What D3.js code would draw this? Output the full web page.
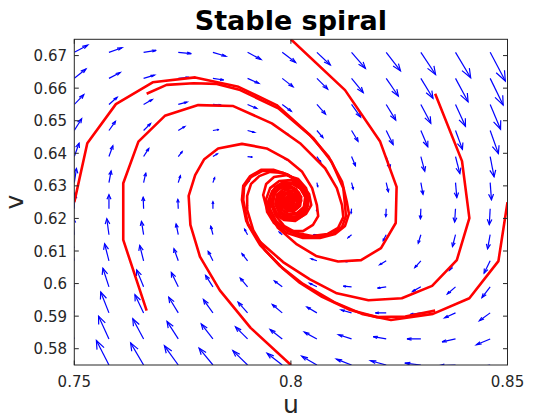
<!DOCTYPE html>
<html>
<head>
<meta charset="utf-8">
<script src="https://cdn.jsdelivr.net/npm/d3@7"></script>
<style>
  body { margin: 0; background: #fff; }
  text { font-family: "DejaVu Sans", sans-serif; }
</style>
</head>
<body>
<div id="chart"></div>
<script>
// tick labels
var uTicks = [0.75, 0.8, 0.85];
var uTickLabels = ["0.75", "0.8", "0.85"];
var vTicks = [0.58, 0.59, 0.6, 0.61, 0.62, 0.63, 0.64, 0.65, 0.66, 0.67];
var vTickLabels = ["0.58", "0.59", "0.6", "0.61", "0.62", "0.63", "0.64", "0.65", "0.66", "0.67"];

// quiver grid
var uGrid = [0.75, 0.758, 0.766, 0.774, 0.782, 0.79, 0.798, 0.806, 0.814, 0.822, 0.83, 0.838, 0.846];
var vGrid = [0.575, 0.583, 0.591, 0.599, 0.607, 0.615, 0.623, 0.631, 0.639, 0.647, 0.655, 0.663, 0.671];

// arrow components (x 1e-4), one row per vGrid value, bottom row first
var U = [
  [-28, -29, -30, -32, -32, -34, -35, -35, -35, -36, -37, -38, -39],
  [-23, -24, -25, -26, -27, -28, -28, -29, -30, -30, -32, -31, -32],
  [-19, -19, -20, -22, -22, -22, -23, -23, -24, -25, -25, -25, -25],
  [-13, -14, -16, -16, -17, -17, -18, -17, -19, -20, -19, -19, -19],
  [-9, -10, -9, -10, -11, -13, -12, -13, -14, -15, -14, -14, -14],
  [-4, -5, -5, -5, -5, -7, -7, -8, -8, -7, -6, -7, -6],
  [1, 0, -1, -1, 0, -1, -1, -1, -1, -1, -1, -2, -2],
  [5, 5, 5, 5, 4, 4, 3, 2, 4, 5, 5, 3, 3],
  [11, 9, 12, 9, 10, 11, 10, 9, 9, 9, 9, 10, 9],
  [17, 15, 16, 15, 14, 16, 15, 14, 15, 16, 16, 16, 19],
  [22, 19, 20, 20, 19, 21, 21, 20, 21, 22, 23, 23, 24],
  [27, 26, 25, 25, 25, 26, 25, 25, 27, 28, 28, 29, 30],
  [31, 30, 29, 30, 30, 31, 31, 31, 32, 33, 34, 35, 35]
];
var V = [
  [81, 75, 68, 59, 52, 44, 36, 27, 18, 13, 6, -2, -10],
  [76, 70, 62, 54, 46, 37, 29, 21, 13, 7, 0, -9, -18],
  [69, 64, 56, 48, 41, 33, 26, 18, 9, 0, -5, -15, -24],
  [62, 57, 52, 44, 35, 27, 18, 11, 2, -4, -14, -22, -33],
  [58, 52, 47, 37, 29, 22, 11, 6, -3, -12, -21, -29, -38],
  [55, 49, 41, 33, 26, 17, 8, 0, -9, -18, -26, -36, -43],
  [48, 43, 35, 28, 21, 12, 3, -6, -14, -24, -31, -41, -49],
  [43, 36, 29, 21, 15, 6, -3, -12, -20, -28, -36, -46, -53],
  [41, 33, 25, 15, 8, -2, -10, -18, -28, -37, -45, -52, -62],
  [36, 28, 21, 12, 3, -6, -14, -22, -33, -43, -50, -58, -71],
  [30, 22, 15, 7, -2, -12, -21, -30, -39, -48, -58, -67, -76],
  [29, 18, 10, 3, -5, -15, -26, -33, -44, -54, -61, -72, -82],
  [22, 14, 6, -4, -12, -22, -31, -39, -49, -57, -68, -78, -88]
];

// trajectories [u, v]
var trajA = [[0.8,0.675],[0.8125,0.6594],[0.8206,0.6436],[0.8244,0.6297],[0.8242,0.6186],[0.8208,0.6109],[0.8162,0.6072],[0.8109,0.6068],[0.8058,0.6085],[0.8012,0.6122],[0.7970,0.6171],[0.7945,0.6226],[0.7936,0.6272],[0.7943,0.6306],[0.7961,0.6327],[0.7989,0.6333],[0.8017,0.6321],[0.8035,0.6293],[0.8042,0.6260],[0.8035,0.6226],[0.8017,0.6204],[0.7994,0.6201],[0.7973,0.6217],[0.7964,0.6244],[0.7968,0.6272],[0.7982,0.6290],[0.8003,0.6293],[0.8019,0.6278],[0.8024,0.6254],[0.8014,0.6232],[0.7998,0.6226],[0.7984,0.6238],[0.7984,0.6260],[0.7994,0.6269],[0.8005,0.6263],[0.8007,0.6247],[0.7998,0.6241],[0.7991,0.6250],[0.7996,0.6257]];
var trajB = [[0.8333,0.6583],[0.8395,0.6376],[0.8412,0.6201],[0.8383,0.6072],[0.8326,0.5993],[0.8256,0.5955],[0.8179,0.5949],[0.8106,0.5970],[0.8044,0.6013],[0.7982,0.6066],[0.7924,0.6134],[0.7897,0.6192],[0.7887,0.6257],[0.7890,0.6300],[0.7906,0.6330],[0.7931,0.6349],[0.7961,0.6349],[0.7991,0.6336],[0.8019,0.6312],[0.8035,0.6278],[0.8040,0.6241],[0.8030,0.6211],[0.8010,0.6192],[0.7984,0.6195],[0.7964,0.6214],[0.7954,0.6244],[0.7959,0.6275],[0.7973,0.6297],[0.7994,0.6303],[0.8012,0.6290],[0.8024,0.6266],[0.8021,0.6238],[0.8007,0.6223],[0.7991,0.6223],[0.7980,0.6238],[0.7980,0.6260],[0.7989,0.6275],[0.8003,0.6272],[0.8010,0.6257],[0.8005,0.6241],[0.7994,0.6241],[0.7991,0.6254],[0.7998,0.6257]];
var trajC = [[0.8,0.575],[0.7907,0.5864],[0.7836,0.5979],[0.7790,0.6083],[0.7768,0.6180],[0.7764,0.6269],[0.7779,0.6333],[0.7800,0.6382],[0.7832,0.6415],[0.7887,0.6429],[0.7944,0.6415],[0.7994,0.6379],[0.8026,0.6343],[0.8049,0.6293],[0.8060,0.6241],[0.8063,0.6207],[0.8051,0.6180],[0.8028,0.6161],[0.7998,0.6161],[0.7970,0.6180],[0.7952,0.6214],[0.7947,0.6250],[0.7957,0.6284],[0.7975,0.6306],[0.8000,0.6309],[0.8021,0.6293],[0.8033,0.6266],[0.8030,0.6235],[0.8014,0.6217],[0.7994,0.6214],[0.7977,0.6229],[0.7973,0.6254],[0.7982,0.6275],[0.7998,0.6281],[0.8012,0.6269],[0.8014,0.6247],[0.8005,0.6232],[0.7991,0.6235],[0.7987,0.6250],[0.7994,0.6263],[0.8000,0.6254]];
var trajD = [[0.7667,0.5917],[0.7613,0.6134],[0.7613,0.6308],[0.7648,0.6436],[0.7709,0.6515],[0.7786,0.6548],[0.7867,0.6545],[0.7956,0.6492],[0.8021,0.6431],[0.8079,0.6354],[0.8106,0.6293],[0.8118,0.6241],[0.8121,0.6204],[0.8109,0.6171],[0.8084,0.6152],[0.8049,0.6146],[0.8014,0.6155],[0.7984,0.6177],[0.7964,0.6211],[0.7957,0.6247],[0.7964,0.6281],[0.7980,0.6303],[0.8003,0.6306],[0.8024,0.6290],[0.8035,0.6263],[0.8033,0.6232],[0.8017,0.6214],[0.7996,0.6211],[0.7980,0.6226],[0.7975,0.6250],[0.7982,0.6272],[0.7998,0.6278],[0.8012,0.6266],[0.8014,0.6244],[0.8003,0.6232],[0.7989,0.6241],[0.7989,0.6257],[0.7998,0.6263],[0.8003,0.6250]];
var trajE = [[0.7667,0.6583],[0.7713,0.6610],[0.7775,0.6615],[0.7829,0.6613],[0.7883,0.6594],[0.7971,0.6538],[0.8052,0.6446],[0.8094,0.6374],[0.8121,0.6293],[0.8125,0.6241],[0.8127,0.6207],[0.8118,0.6174],[0.8095,0.6152],[0.8063,0.6143],[0.8026,0.6146],[0.7994,0.6161],[0.7966,0.6192],[0.7952,0.6229],[0.7952,0.6266],[0.7964,0.6297],[0.7984,0.6312],[0.8010,0.6309],[0.8030,0.6287],[0.8040,0.6257],[0.8035,0.6226],[0.8019,0.6207],[0.7996,0.6204],[0.7977,0.6220],[0.7970,0.6247],[0.7977,0.6272],[0.7994,0.6281],[0.8010,0.6275],[0.8017,0.6254],[0.8010,0.6235],[0.7996,0.6232],[0.7987,0.6244],[0.7991,0.6260],[0.8000,0.6260],[0.8003,0.6247],[0.7996,0.6250]];
var trajF = [[0.75,0.625],[0.7530,0.6431],[0.7596,0.6551],[0.7681,0.6618],[0.7779,0.6633],[0.7879,0.6604],[0.7967,0.6548],[0.8044,0.6456],[0.8087,0.6390],[0.8118,0.6313],[0.8129,0.6251],[0.8134,0.6214],[0.8125,0.6177],[0.8102,0.6152],[0.8067,0.6140],[0.8028,0.6140],[0.7991,0.6155],[0.7961,0.6186],[0.7945,0.6220],[0.7943,0.6260],[0.7952,0.6293],[0.7973,0.6315],[0.8000,0.6318],[0.8026,0.6303],[0.8042,0.6275],[0.8047,0.6241],[0.8035,0.6214],[0.8014,0.6198],[0.7991,0.6201],[0.7973,0.6220],[0.7966,0.6247],[0.7973,0.6275],[0.7989,0.6287],[0.8007,0.6284],[0.8019,0.6266],[0.8021,0.6241],[0.8010,0.6226],[0.7994,0.6226],[0.7984,0.6241],[0.7987,0.6260],[0.7998,0.6266],[0.8005,0.6254],[0.8000,0.6241],[0.7994,0.6247],[0.7996,0.6254]];
var trajG = [[0.85,0.625],[0.8479,0.6069],[0.8412,0.5955],[0.8328,0.5907],[0.8231,0.5888],[0.8164,0.5907],[0.8100,0.5943],[0.8028,0.5999],[0.7975,0.6054],[0.7929,0.6118],[0.7901,0.6180],[0.7890,0.6257],[0.7892,0.6297],[0.7908,0.6327],[0.7934,0.6346],[0.7964,0.6346],[0.7994,0.6333],[0.8019,0.6309],[0.8033,0.6275],[0.8035,0.6241],[0.8024,0.6214],[0.8003,0.6198],[0.7980,0.6201],[0.7961,0.6223],[0.7957,0.6254],[0.7964,0.6281],[0.7980,0.6297],[0.8000,0.6297],[0.8017,0.6281],[0.8021,0.6257],[0.8012,0.6235],[0.7996,0.6229],[0.7984,0.6241],[0.7986,0.6260],[0.7998,0.6266],[0.7996,0.6254]];
var trajH = [[0.8333,0.5917],[0.8264,0.5899],[0.8199,0.5897],[0.8137,0.5919],[0.8072,0.5959],[0.8021,0.6002],[0.7980,0.6048],[0.7940,0.6103],[0.7913,0.6164],[0.7899,0.6226],[0.7899,0.6269],[0.7908,0.6306],[0.7927,0.6330],[0.7952,0.6343],[0.7982,0.6340],[0.8010,0.6321],[0.8028,0.6290],[0.8035,0.6257],[0.8028,0.6223],[0.8010,0.6201],[0.7987,0.6198],[0.7968,0.6214],[0.7959,0.6241],[0.7961,0.6272],[0.7973,0.6293],[0.7994,0.6300],[0.8012,0.6287],[0.8021,0.6263],[0.8017,0.6238],[0.8000,0.6226],[0.7987,0.6235],[0.7984,0.6257],[0.7994,0.6269],[0.8003,0.6260],[0.7998,0.6250]];

var trajectories = [trajA, trajB, trajC, trajD, trajE, trajF, trajG, trajH];

var width = 560, height = 420;
// axes box in pixels (plain "top" would clash with window.top)
var boxLeft = 74.3, boxRight = 507.5, boxTop = 39.3, boxBottom = 365;

var svg = d3.select("#chart")
    .append("svg")
    .attr("width", width)
    .attr("height", height);

svg.append("rect").attr("width", width).attr("height", height).attr("fill", "#fff");

var x = d3.scaleLinear().domain([0.75, 0.85]).range([boxLeft, boxRight]);
var y = d3.scaleLinear().domain([0.575, 0.675]).range([boxBottom, boxTop]);

svg.append("clipPath").attr("id", "plotclip")
  .append("rect")
    .attr("x", boxLeft).attr("y", boxTop)
    .attr("width", boxRight - boxLeft).attr("height", boxBottom - boxTop);

var plot = svg.append("g").attr("clip-path", "url(#plotclip)");

// quiver arrows, head like matlab (alpha = beta = 0.33)
var arrows = [];
vGrid.forEach(function(v, j) {
    uGrid.forEach(function(u, i) {
        arrows.push({ u: u, v: v, du: U[j][i] * 1e-4, dv: V[j][i] * 1e-4 });
    });
});
var alpha = 0.33, beta = 0.33;

var quiver = plot.append("g")
    .attr("stroke", "#0000ff")
    .attr("stroke-width", 1.2)
    .attr("fill", "none");

quiver.selectAll(".shaft")
    .data(arrows)
    .enter().append("line")
    .attr("x1", function(d) { return x(d.u); })
    .attr("y1", function(d) { return y(d.v); })
    .attr("x2", function(d) { return x(d.u + d.du); })
    .attr("y2", function(d) { return y(d.v + d.dv); });

quiver.selectAll(".head")
    .data(arrows)
    .enter().append("polyline")
    .attr("points", function(d) {
        var tu = d.u + d.du, tv = d.v + d.dv;
        var p1 = [tu - alpha * (d.du + beta * d.dv), tv - alpha * (d.dv - beta * d.du)];
        var p2 = [tu - alpha * (d.du - beta * d.dv), tv - alpha * (d.dv + beta * d.du)];
        return [p1, [tu, tv], p2].map(function(p) { return x(p[0]) + "," + y(p[1]); }).join(" ");
    });

// trajectories
var line = d3.line()
    .x(function(d) { return x(d[0]); })
    .y(function(d) { return y(d[1]); });

plot.selectAll(".traj")
    .data(trajectories)
    .enter().append("path")
    .attr("d", line)
    .attr("fill", "none")
    .attr("stroke", "#ff0000")
    .attr("stroke-width", 2.6)
    .attr("stroke-linejoin", "round");

// axes box and ticks
var axisColor = "#262626";
var tickLen = 4.5;
var axes = svg.append("g").attr("stroke", axisColor).attr("stroke-width", 1);

axes.append("rect")
    .attr("x", boxLeft).attr("y", boxTop)
    .attr("width", boxRight - boxLeft).attr("height", boxBottom - boxTop)
    .attr("fill", "none");

uTicks.forEach(function(t) {
    axes.append("line").attr("x1", x(t)).attr("x2", x(t)).attr("y1", boxBottom).attr("y2", boxBottom - tickLen);
    axes.append("line").attr("x1", x(t)).attr("x2", x(t)).attr("y1", boxTop).attr("y2", boxTop + tickLen);
});
vTicks.forEach(function(t) {
    axes.append("line").attr("x1", boxLeft).attr("x2", boxLeft + tickLen).attr("y1", y(t)).attr("y2", y(t));
    axes.append("line").attr("x1", boxRight).attr("x2", boxRight - tickLen).attr("y1", y(t)).attr("y2", y(t));
});

svg.selectAll(".xlab")
    .data(uTicks)
    .enter().append("text")
    .attr("x", function(d) { return x(d); })
    .attr("y", 387)
    .attr("text-anchor", "middle")
    .style("font-size", "15px")
    .style("fill", axisColor)
    .text(function(d, i) { return uTickLabels[i]; });

svg.selectAll(".ylab")
    .data(vTicks)
    .enter().append("text")
    .attr("x", 67)
    .attr("y", function(d) { return y(d) + 5.5; })
    .attr("text-anchor", "end")
    .style("font-size", "15px")
    .style("fill", axisColor)
    .text(function(d, i) { return vTickLabels[i]; });

svg.append("text")
    .attr("x", (boxLeft + boxRight) / 2)
    .attr("y", 413)
    .attr("text-anchor", "middle")
    .style("font-size", "25px")
    .style("fill", axisColor)
    .text("u");

svg.append("text")
    .attr("transform", "translate(23," + ((boxTop + boxBottom) / 2) + ") rotate(-90)")
    .attr("text-anchor", "middle")
    .style("font-size", "25px")
    .style("fill", axisColor)
    .text("v");

svg.append("text")
    .attr("x", (boxLeft + boxRight) / 2)
    .attr("y", 30)
    .attr("text-anchor", "middle")
    .style("font-size", "27px")
    .style("font-weight", "bold")
    .style("fill", "#000")
    .text("Stable spiral");
</script>
</body>
</html>
